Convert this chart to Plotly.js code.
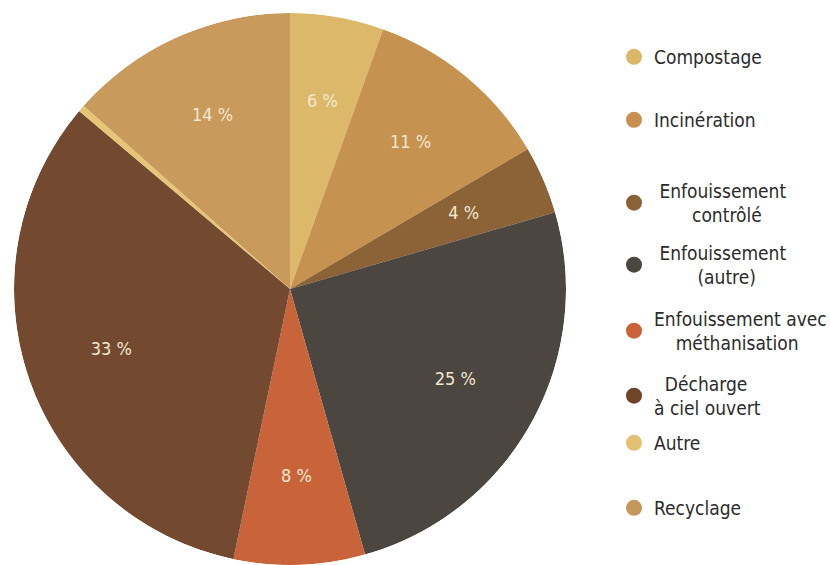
<!DOCTYPE html>
<html>
<head>
<meta charset="utf-8">
<script src="https://cdn.plot.ly/plotly-3.0.1.min.js"></script>
<style>
html,body{margin:0;padding:0;background:#fff;}
#chart{width:830px;height:565px;}
#chart text{font-stretch:condensed;}
</style>
</head>
<body>
<div id="chart"></div>
<script>
// Data
const categories = ["Compostage", "Incinération", "Enfouissement contrôlé", "Enfouissement (autre)",
  "Enfouissement avec méthanisation", "Décharge à ciel ouvert", "Autre", "Recyclage"];
const legendLabels = ["Compostage", "Incinération",
  "\u00a0Enfouissement<br>\u00a0\u00a0\u00a0\u00a0\u00a0\u00a0\u00a0contrôlé",
  "\u00a0Enfouissement<br>\u00a0\u00a0\u00a0\u00a0\u00a0\u00a0\u00a0\u00a0(autre)",
  "Enfouissement avec<br>\u00a0\u00a0\u00a0\u00a0méthanisation",
  "\u00a0\u00a0Décharge<br>à ciel ouvert", "Autre", "Recyclage"];
const shares = [5.5, 11.1, 4.0, 25.2, 7.7, 33.0, 0.4, 13.5];
const colors = ["#dcb96a", "#c6924f", "#8c6237", "#4b4640", "#c9643a", "#734a2f", "#e6c575", "#c89a5c"];
const legendColors = ["#dbb866", "#c98f4e", "#8b6136", "#4a4640", "#cc6338", "#6f4428", "#e2c270", "#c7965a"];
const legendY = [57, 120, 203, 265, 331, 396, 443, 508];

const sliceText = shares.map(v => v >= 1 ? Math.round(v) + " %" : "");
const FONT = "'DejaVu Sans Condensed', 'Liberation Sans Narrow', 'DejaVu Sans', sans-serif";

// slice geometry derived from the shares (degrees, clockwise from top)
const total = shares.reduce((a, b) => a + b, 0);
const sliceWidths = shares.map(v => v / total * 360);
let cum = 0;
const midAngles = shares.map(v => { const m = (cum + v / 2) / total * 360; cum += v; return m; });
const sliceRadius = shares.map(() => 1);
const labelRadius = shares.map(() => 0.685);

const W = 830, H = 565, MT = 13, MB = 0;
const pieDomain = {x: [12 / W, 568 / W], y: [0, 1]};

const traces = [{
  type: "barpolar",
  r: sliceRadius,
  theta: midAngles,
  width: sliceWidths,
  base: 0,
  marker: {color: colors, line: {width: 0}},
  showlegend: false,
  hoverinfo: "skip"
}, {
  type: "scatterpolar",
  mode: "text",
  r: labelRadius,
  theta: midAngles,
  text: sliceText,
  textposition: "middle center",
  textfont: {family: FONT, size: 18, color: "#f4e7d0"},
  showlegend: false,
  hoverinfo: "skip"
}];

const layout = {
  width: W, height: H,
  margin: {l: 0, r: 0, t: MT, b: MB, autoexpand: false},
  paper_bgcolor: "#ffffff",
  plot_bgcolor: "#ffffff",
  xaxis: {visible: false, showgrid: false, zeroline: false},
  yaxis: {visible: false, showgrid: false, zeroline: false},
  polar: {
    domain: pieDomain,
    bgcolor: "rgba(0,0,0,0)",
    bargap: 0,
    radialaxis: {visible: false, range: [0, 1]},
    angularaxis: {visible: false, rotation: 90, direction: "clockwise", thetaunit: "degrees"}
  },
  showlegend: true
};

categories.forEach((c, i) => {
  const key = i === 0 ? "legend" : "legend" + (i + 1);
  traces.push({
    type: "scatter", mode: "markers",
    x: [null], y: [null],
    name: legendLabels[i],
    legend: key,
    marker: {color: legendColors[i], size: 16, symbol: "circle"},
    hoverinfo: "skip",
    showlegend: true
  });
  layout[key] = {
    x: 614 / W, xanchor: "left",
    y: (H - MB - legendY[i]) / (H - MT - MB), yanchor: "middle",
    bgcolor: "rgba(0,0,0,0)",
    borderwidth: 0,
    font: {family: FONT, size: 19, color: "#2b2b2b"},
    itemsizing: "trace",
    valign: "middle",
    itemclick: false, itemdoubleclick: false
  };
});

Plotly.newPlot("chart", traces, layout, {displayModeBar: false, staticPlot: true});
</script>
</body>
</html>
